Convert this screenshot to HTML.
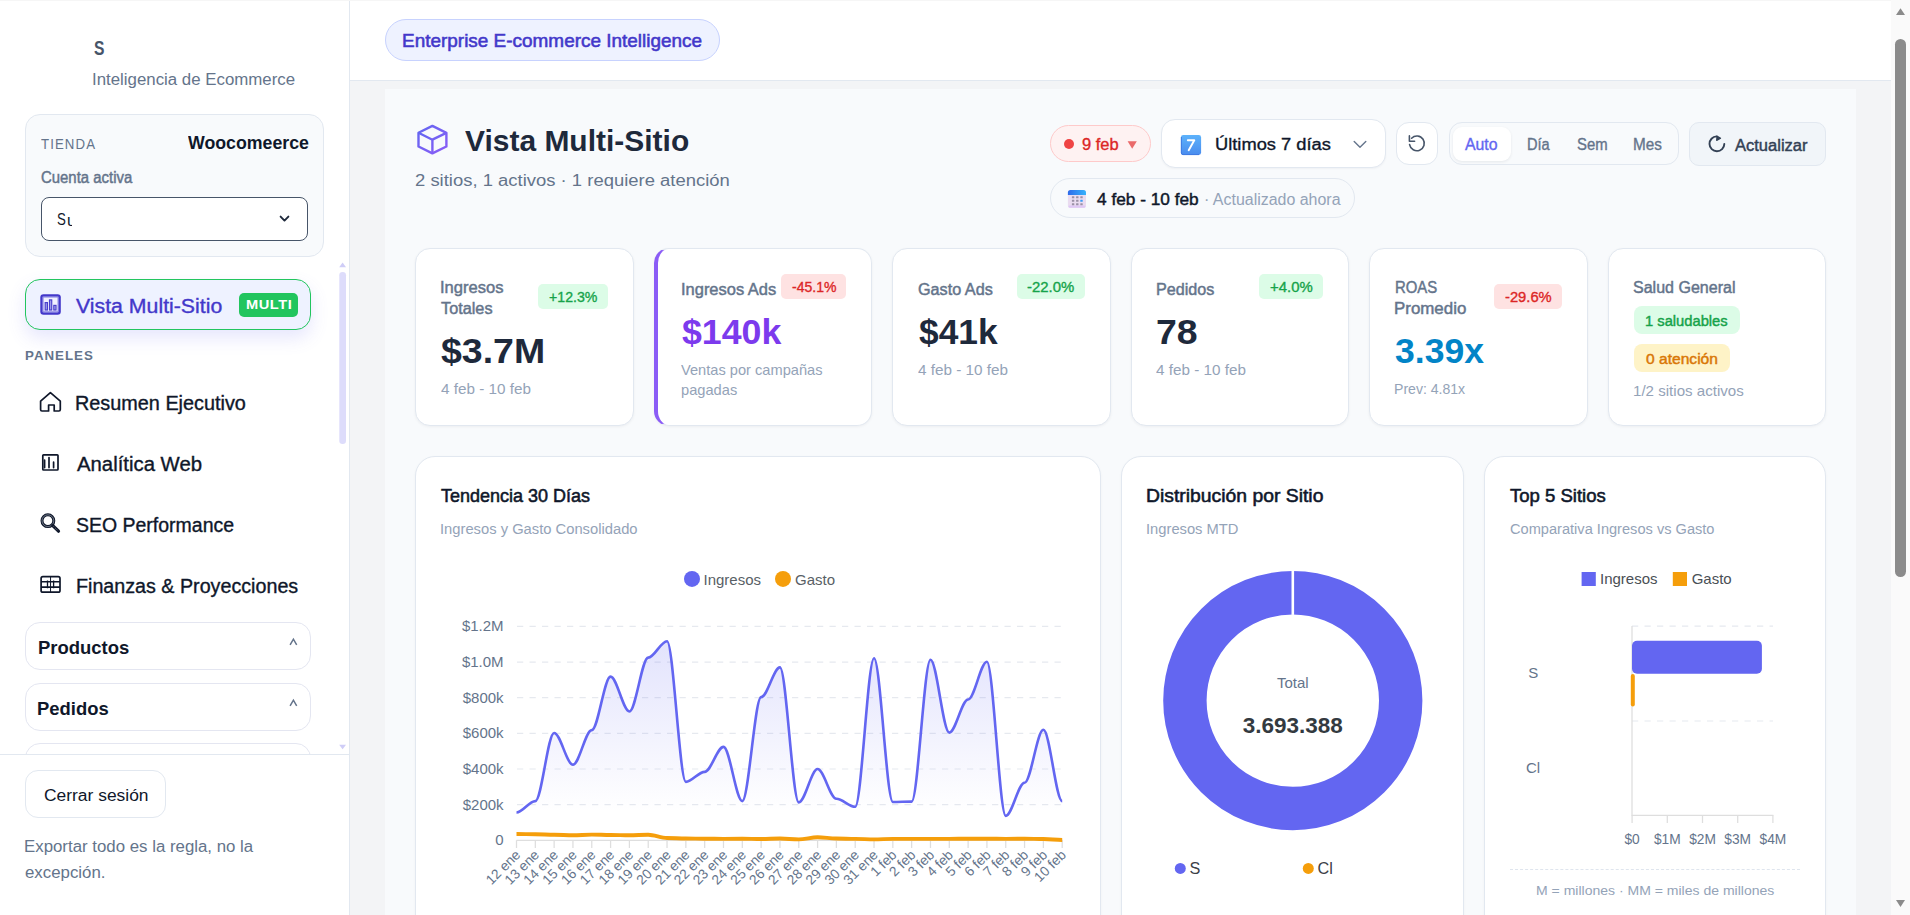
<!DOCTYPE html>
<html lang="es"><head><meta charset="utf-8"><title>Vista Multi-Sitio</title><style>
*{box-sizing:border-box;margin:0;padding:0}
html,body{width:1910px;height:915px;overflow:hidden;background:#fff}
body{font-family:"Liberation Sans",sans-serif;position:relative;-webkit-font-smoothing:antialiased}
#app{position:absolute;left:0;top:0;width:1910px;height:915px;overflow:hidden;background:#fff}
.abs{position:absolute}
.t{position:absolute;white-space:nowrap;line-height:1;transform-origin:0 50%;font-family:"Liberation Sans",sans-serif}
.card{position:absolute;background:#fff;border:1px solid #e2e8f0;border-radius:15px;box-shadow:0 1px 3px rgba(15,23,42,.05)}
.ccard{position:absolute;background:#fff;border:1px solid #e2e8f0;border-radius:20px;box-shadow:0 1px 3px rgba(15,23,42,.04)}
.badge{position:absolute;border-radius:5px}
svg{position:absolute;left:0;top:0;overflow:visible}
</style></head><body><div id="app">
<div class="abs" style="left:350px;top:0px;width:1541px;height:81px;background:#fff;border-bottom:1px solid #e2e8f0"></div>
<div class="abs" style="left:350px;top:81px;width:1541px;height:834px;background:#f3f4f6"></div>
<div class="abs" style="left:385px;top:89px;width:1471px;height:826px;background:#f8fafc"></div>
<aside>
<div class="abs" style="left:0px;top:0px;width:350px;height:915px;background:#fff;border-right:1px solid #e2e8f0"></div>
<span class="t" style="left:93.73px;top:38.79px;font-size:19.5px;color:#475569;font-weight:700;transform:scaleX(0.8014);">S</span>
<span class="t" style="left:92.46px;top:71.25px;font-size:17.06px;color:#64748b;transform:scaleX(0.9878);">Inteligencia de Ecommerce</span>
<div class="abs" style="left:25px;top:114px;width:299px;height:143px;background:#f8fafc;border:1px solid #e2e8f0;border-radius:15px"></div>
<span class="t" style="left:41.45px;top:137.07px;font-size:14.62px;color:#64748b;letter-spacing:1.200px;transform:scaleX(0.9066);">TIENDA</span>
<span class="t" style="left:188.20px;top:133.82px;font-size:18.28px;color:#0f172a;font-weight:700;transform:scaleX(0.9714);">Woocomeerce</span>
<span class="t" style="left:40.50px;top:170.21px;font-size:15.84px;color:#64748b;-webkit-text-stroke:0.45px #64748b;transform:scaleX(0.9427);">Cuenta activa</span>
<div class="abs" style="left:41px;top:197px;width:267px;height:44px;background:#fff;border:1.4px solid #475569;border-radius:8px"></div>
<span class="t" style="left:57.09px;top:211.36px;font-size:17.06px;color:#0f172a;transform:scaleX(0.7754);">S</span>
<span class="abs" style="left:66.6px;top:211.86px;width:5.9px;height:20px;overflow:hidden"><span class="t" style="left:0;top:0;font-size:17.06px;color:#0f172a;transform:scaleX(.95)">u</span></span>
<div class="abs" style="left:25px;top:279px;width:286px;height:51px;background:#eef2ff;border:1px solid #22c55e;border-radius:15px;box-shadow:0 8px 18px rgba(99,102,241,.16)"></div>
<span class="t" style="left:76.00px;top:297.15px;font-size:19.5px;color:#4338ca;-webkit-text-stroke:0.35px #4338ca;transform:scaleX(1.0913);">Vista Multi-Sitio</span>
<div class="abs" style="left:239px;top:293px;width:59.2px;height:23.5px;background:#22c55e;border-radius:5px"></div>
<span class="t" style="left:245.93px;top:298.24px;font-size:13.41px;color:#ffffff;font-weight:700;letter-spacing:0.500px;transform:scaleX(1.0910);">MULTI</span>
<span class="t" style="left:24.63px;top:348.59px;font-size:13.41px;color:#64748b;font-weight:700;letter-spacing:1.000px;transform:scaleX(0.9931);">PANELES</span>
<span class="t" style="left:75.28px;top:394.41px;font-size:19.5px;color:#0f172a;-webkit-text-stroke:0.35px #0f172a;transform:scaleX(1.0169);">Resumen Ejecutivo</span>
<span class="t" style="left:76.90px;top:454.91px;font-size:19.5px;color:#0f172a;-webkit-text-stroke:0.35px #0f172a;transform:scaleX(1.0419);">Analítica Web</span>
<span class="t" style="left:75.54px;top:516.15px;font-size:19.5px;color:#0f172a;-webkit-text-stroke:0.35px #0f172a;transform:scaleX(0.9989);">SEO Performance</span>
<span class="t" style="left:75.84px;top:577.21px;font-size:19.5px;color:#0f172a;-webkit-text-stroke:0.35px #0f172a;transform:scaleX(1.0098);">Finanzas &amp; Proyecciones</span>
<div class="abs" style="left:25px;top:622px;width:286px;height:48px;background:#fff;border:1px solid #e4e6f1;border-radius:15px"></div>
<div class="abs" style="left:25px;top:683.3px;width:286px;height:47.3px;background:#fff;border:1px solid #e4e6f1;border-radius:15px"></div>
<div class="abs" style="left:25px;top:743.3px;width:286px;height:46.7px;background:#fff;border:1px solid #e4e6f1;border-radius:15px"></div>
<span class="t" style="left:37.90px;top:638.79px;font-size:18.28px;color:#0f172a;font-weight:700;transform:scaleX(1.0111);">Productos</span>
<span class="t" style="left:37.40px;top:699.52px;font-size:18.28px;color:#0f172a;font-weight:700;transform:scaleX(1.0085);">Pedidos</span>
<div class="abs" style="left:0px;top:754px;width:349px;height:161px;background:#fff;border-top:1px solid #e2e8f0"></div>
<div class="abs" style="left:25px;top:770px;width:141px;height:47.6px;background:#fff;border:1px solid #e2e8f0;border-radius:13px"></div>
<span class="t" style="left:43.58px;top:786.95px;font-size:17.06px;color:#0f172a;transform:scaleX(1.0219);">Cerrar sesión</span>
<span class="t" style="left:24.03px;top:837.59px;font-size:17.06px;color:#64748b;transform:scaleX(0.9871);">Exportar todo es la regla, no la</span>
<span class="t" style="left:24.85px;top:863.81px;font-size:17.06px;color:#64748b;transform:scaleX(0.9874);">excepción.</span>
</aside>
<header>
<div class="abs" style="left:385px;top:19px;width:335px;height:42px;background:#eef2ff;border:1px solid #c7d2fe;border-radius:21px"></div>
<span class="t" style="left:402.01px;top:32.04px;font-size:18.28px;color:#4338ca;-webkit-text-stroke:0.55px #4338ca;transform:scaleX(1.0372);">Enterprise E-commerce Intelligence</span>
</header>
<main>
<span class="t" style="left:465.38px;top:127.07px;font-size:29.25px;color:#1e293b;font-weight:700;transform:scaleX(1.0244);">Vista Multi-Sitio</span>
<span class="t" style="left:414.79px;top:171.71px;font-size:17.06px;color:#64748b;transform:scaleX(1.0821);">2 sitios, 1 activos · 1 requiere atención</span>
<div class="abs" style="left:1050px;top:125px;width:100.6px;height:36.5px;background:#fef2f2;border:1px solid #fecaca;border-radius:19px"></div>
<div class="abs" style="left:1063.7px;top:139px;width:10.2px;height:10.2px;background:#ef4444;border-radius:50%"></div>
<span class="t" style="left:1082.28px;top:137.10px;font-size:15.84px;color:#dc2626;-webkit-text-stroke:0.35px #dc2626;transform:scaleX(1.0421);">9 feb</span>
<div class="abs" style="left:1161px;top:119px;width:224.5px;height:48.6px;background:#fff;border:1px solid #e2e8f0;border-radius:14px;box-shadow:0 1px 2px rgba(15,23,42,.04)"></div>
<span class="t" style="left:1214.79px;top:135.94px;font-size:17.06px;color:#0f172a;-webkit-text-stroke:0.35px #0f172a;transform:scaleX(1.0731);">Últimos 7 días</span>
<div class="abs" style="left:1396.4px;top:122px;width:42.0px;height:43px;background:#fff;border:1px solid #e2e8f0;border-radius:13px"></div>
<div class="abs" style="left:1449.3px;top:122px;width:229.5px;height:43px;background:#f8fafc;border:1px solid #e2e8f0;border-radius:13px"></div>
<div class="abs" style="left:1453px;top:126.8px;width:58.3px;height:34.1px;background:#fff;border-radius:9px;box-shadow:0 1px 3px rgba(15,23,42,.08)"></div>
<span class="t" style="left:1465.41px;top:137.10px;font-size:15.84px;color:#6366f1;-webkit-text-stroke:0.35px #6366f1;transform:scaleX(1.0003);">Auto</span>
<span class="t" style="left:1526.89px;top:137.10px;font-size:15.84px;color:#64748b;-webkit-text-stroke:0.35px #64748b;transform:scaleX(0.9215);">Día</span>
<span class="t" style="left:1576.88px;top:137.10px;font-size:15.84px;color:#64748b;-webkit-text-stroke:0.35px #64748b;transform:scaleX(0.9403);">Sem</span>
<span class="t" style="left:1632.94px;top:137.10px;font-size:15.84px;color:#64748b;-webkit-text-stroke:0.35px #64748b;transform:scaleX(0.9663);">Mes</span>
<div class="abs" style="left:1689.3px;top:122px;width:136.5px;height:43.5px;background:#f1f5f9;border:1px solid #e2e8f0;border-radius:10px"></div>
<span class="t" style="left:1734.55px;top:136.98px;font-size:17.06px;color:#334155;-webkit-text-stroke:0.45px #334155;transform:scaleX(0.9687);">Actualizar</span>
<div class="abs" style="left:1050px;top:178px;width:304.8px;height:40px;background:#f8fafc;border:1px solid #e2e8f0;border-radius:20px"></div>
<span class="t" style="left:1097.05px;top:190.98px;font-size:17.06px;color:#0f172a;-webkit-text-stroke:0.45px #0f172a;transform:scaleX(1.0118);">4 feb - 10 feb</span>
<span class="t" style="left:1203.62px;top:192.34px;font-size:15.84px;color:#94a3b8;transform:scaleX(1.0074);">· Actualizado ahora</span>
<div class="card" style="left:415px;top:248px;width:219px;height:178px;"></div>
<div class="card" style="left:654px;top:248px;width:218px;height:178px;border-left:4px solid #8b5cf6"></div>
<div class="card" style="left:892px;top:248px;width:219px;height:178px;"></div>
<div class="card" style="left:1131px;top:248px;width:218px;height:178px;"></div>
<div class="card" style="left:1369px;top:248px;width:219px;height:178px;"></div>
<div class="card" style="left:1608px;top:248px;width:218px;height:178px;"></div>
<div class="abs" style="left:538.2px;top:284px;width:69.8px;height:24.9px;background:#dcfce7;border-radius:5px"></div>
<div class="abs" style="left:781.3px;top:274px;width:64.7px;height:24.8px;background:#fee2e2;border-radius:5px"></div>
<div class="abs" style="left:1017px;top:274px;width:68px;height:24.8px;background:#dcfce7;border-radius:5px"></div>
<div class="abs" style="left:1259px;top:274px;width:63.8px;height:24.8px;background:#dcfce7;border-radius:5px"></div>
<div class="abs" style="left:1494px;top:284px;width:68px;height:24.9px;background:#fee2e2;border-radius:5px"></div>
<div class="abs" style="left:1634px;top:306.1px;width:106px;height:27.7px;background:#dcfce7;border-radius:8px"></div>
<div class="abs" style="left:1634px;top:344.3px;width:96px;height:27.7px;background:#fef3c7;border-radius:8px"></div>
<span class="t" style="left:440.02px;top:279.70px;font-size:15.84px;color:#64748b;-webkit-text-stroke:0.45px #64748b;transform:scaleX(1.0452);">Ingresos</span>
<span class="t" style="left:441.00px;top:301.30px;font-size:15.84px;color:#64748b;-webkit-text-stroke:0.45px #64748b;transform:scaleX(1.0275);">Totales</span>
<span class="t" style="left:549.29px;top:290.08px;font-size:14.62px;color:#16a34a;-webkit-text-stroke:0.35px #16a34a;transform:scaleX(0.9683);">+12.3%</span>
<span class="t" style="left:441.39px;top:333.92px;font-size:35.59px;color:#1e293b;font-weight:700;transform:scaleX(1.0536);">$3.7M</span>
<span class="t" style="left:441.05px;top:380.79px;font-size:15.21px;color:#94a3b8;transform:scaleX(1.0043);">4 feb - 10 feb</span>
<span class="t" style="left:681.03px;top:281.92px;font-size:15.84px;color:#64748b;-webkit-text-stroke:0.45px #64748b;transform:scaleX(1.0403);">Ingresos Ads</span>
<span class="t" style="left:791.60px;top:280.11px;font-size:14.62px;color:#dc2626;-webkit-text-stroke:0.35px #dc2626;transform:scaleX(0.9623);">-45.1%</span>
<span class="t" style="left:682.30px;top:314.53px;font-size:35.59px;color:#7c3aed;font-weight:700;transform:scaleX(1.0043);">$140k</span>
<span class="t" style="left:681.36px;top:361.77px;font-size:15.21px;color:#94a3b8;transform:scaleX(0.9622);">Ventas por campañas</span>
<span class="t" style="left:680.78px;top:382.10px;font-size:15.21px;color:#94a3b8;transform:scaleX(0.9636);">pagadas</span>
<span class="t" style="left:918.10px;top:281.92px;font-size:15.84px;color:#64748b;-webkit-text-stroke:0.45px #64748b;transform:scaleX(1.0241);">Gasto Ads</span>
<span class="t" style="left:1027.49px;top:280.11px;font-size:14.62px;color:#16a34a;-webkit-text-stroke:0.35px #16a34a;transform:scaleX(1.0196);">-22.0%</span>
<span class="t" style="left:919.49px;top:314.53px;font-size:35.59px;color:#1e293b;font-weight:700;transform:scaleX(0.9933);">$41k</span>
<span class="t" style="left:918.05px;top:361.77px;font-size:15.21px;color:#94a3b8;transform:scaleX(1.0048);">4 feb - 10 feb</span>
<span class="t" style="left:1155.78px;top:281.92px;font-size:15.84px;color:#64748b;-webkit-text-stroke:0.45px #64748b;transform:scaleX(1.0204);">Pedidos</span>
<span class="t" style="left:1270.49px;top:280.11px;font-size:14.62px;color:#16a34a;-webkit-text-stroke:0.35px #16a34a;transform:scaleX(1.0207);">+4.0%</span>
<span class="t" style="left:1155.75px;top:314.53px;font-size:35.59px;color:#1e293b;font-weight:700;transform:scaleX(1.0525);">78</span>
<span class="t" style="left:1156.04px;top:361.77px;font-size:15.21px;color:#94a3b8;transform:scaleX(1.0043);">4 feb - 10 feb</span>
<span class="t" style="left:1394.58px;top:279.70px;font-size:15.84px;color:#64748b;-webkit-text-stroke:0.45px #64748b;transform:scaleX(0.9410);">ROAS</span>
<span class="t" style="left:1393.87px;top:301.30px;font-size:15.84px;color:#64748b;-webkit-text-stroke:0.45px #64748b;transform:scaleX(1.0669);">Promedio</span>
<span class="t" style="left:1504.97px;top:290.08px;font-size:14.62px;color:#dc2626;-webkit-text-stroke:0.35px #dc2626;transform:scaleX(1.0088);">-29.6%</span>
<span class="t" style="left:1395.00px;top:333.92px;font-size:35.59px;color:#0284c7;font-weight:700;transform:scaleX(0.9994);">3.39x</span>
<span class="t" style="left:1394.08px;top:380.79px;font-size:15.21px;color:#94a3b8;transform:scaleX(0.9253);">Prev: 4.81x</span>
<span class="t" style="left:1633.28px;top:279.70px;font-size:15.84px;color:#64748b;-webkit-text-stroke:0.45px #64748b;transform:scaleX(1.0125);">Salud General</span>
<span class="t" style="left:1645.04px;top:314.31px;font-size:14.62px;color:#16a34a;-webkit-text-stroke:0.45px #16a34a;transform:scaleX(1.0077);">1 saludables</span>
<span class="t" style="left:1646.01px;top:352.10px;font-size:14.62px;color:#d97706;-webkit-text-stroke:0.45px #d97706;transform:scaleX(1.0673);">0 atención</span>
<span class="t" style="left:1633.09px;top:382.79px;font-size:15.21px;color:#94a3b8;transform:scaleX(0.9935);">1/2 sitios activos</span>
<div class="ccard" style="left:415px;top:456px;width:686px;height:484px;"></div>
<div class="ccard" style="left:1121px;top:456px;width:343px;height:484px;"></div>
<div class="ccard" style="left:1484px;top:456px;width:342px;height:484px;"></div>
<span class="t" style="left:441.37px;top:486.53px;font-size:18.28px;color:#0f172a;-webkit-text-stroke:0.55px #0f172a;transform:scaleX(0.9851);">Tendencia 30 Días</span>
<span class="t" style="left:440.23px;top:522.15px;font-size:14.62px;color:#94a3b8;transform:scaleX(1.0094);">Ingresos y Gasto Consolidado</span>
<span class="t" style="left:1145.92px;top:486.53px;font-size:18.28px;color:#0f172a;-webkit-text-stroke:0.55px #0f172a;transform:scaleX(1.0590);">Distribución por Sitio</span>
<span class="t" style="left:1145.83px;top:522.12px;font-size:14.62px;color:#94a3b8;transform:scaleX(1.0080);">Ingresos MTD</span>
<span class="t" style="left:1510.24px;top:486.53px;font-size:18.28px;color:#0f172a;-webkit-text-stroke:0.55px #0f172a;transform:scaleX(1.0148);">Top 5 Sitios</span>
<span class="t" style="left:1509.51px;top:522.15px;font-size:14.62px;color:#94a3b8;transform:scaleX(0.9994);">Comparativa Ingresos vs Gasto</span>
<span class="t" style="left:1536.04px;top:883.80px;font-size:13.41px;color:#94a3b8;transform:scaleX(1.0453);">M = millones · MM = miles de millones</span>
<div class="abs" style="left:1510px;top:868.5px;width:290px;height:1.0px;border-top:1px dashed #dfe5ee"></div>
</main>
<div class="abs" style="left:0px;top:0px;width:1910px;height:1px;background:#f6f6f6"></div>
<div class="abs" style="left:1891px;top:0px;width:19px;height:915px;background:#fafafa"></div>
<div class="abs" style="left:1895px;top:39px;width:11px;height:538px;background:#8b8b8b;border-radius:5.5px"></div>
<svg width="1910" height="915" viewBox="0 0 1910 915" font-family="Liberation Sans, sans-serif"><defs><linearGradient id="gA" gradientUnits="userSpaceOnUse" x1="0" y1="626" x2="0" y2="812"><stop offset="0" stop-color="#6366f1" stop-opacity=".2"/><stop offset="1" stop-color="#6366f1" stop-opacity="0"/></linearGradient><linearGradient id="gC" x1="0" y1="0" x2="1" y2="1"><stop offset="0" stop-color="#6366f1"/><stop offset="1" stop-color="#8b5cf6"/></linearGradient><linearGradient id="g7" x1="0" y1="0" x2="0" y2="1"><stop offset="0" stop-color="#5cb2fb"/><stop offset="1" stop-color="#4a8cee"/></linearGradient><linearGradient id="gCal" x1="0" y1="0" x2="1" y2="0"><stop offset="0" stop-color="#2f6bea"/><stop offset="1" stop-color="#36b2fb"/></linearGradient></defs><path d="M1896 15 L1900.5 8.2 L1905 15 Z" fill="#8b8b8b"/><path d="M1896 900 L1905 900 L1900.5 907 Z" fill="#8b8b8b"/><path d="M339.2 267.2 L342.6 262.6 L346 267.2 Z" fill="#cfcdf7"/><rect x="339.3" y="272" width="6.7" height="172" rx="3.3" fill="#dddcfb"/><path d="M339.2 744.8 L346 744.8 L342.6 749.2 Z" fill="#cfcdf7"/><path d="M280.6 216.6 L284.5 220.6 L288.4 216.6" fill="none" stroke="#1e293b" stroke-width="1.9" stroke-linecap="round" stroke-linejoin="round"/><g><rect x="40.3" y="294.2" width="20.5" height="20.5" rx="3.2" fill="#4338ca"/><rect x="42.3" y="296.2" width="16.5" height="16.5" rx="1.4" fill="#8f8ce4"/><rect x="43.6" y="297.6" width="13.9" height="13.6" fill="#f1f1ff"/><rect x="44.6" y="302" width="3.4" height="8.6" fill="#4a40cc"/><rect x="45.7" y="303.2" width="1.2" height="6.2" fill="#9d9aea"/><rect x="48.9" y="299.3" width="3.4" height="11.3" fill="#4a40cc"/><rect x="50" y="300.5" width="1.2" height="8.9" fill="#9d9aea"/><rect x="53.2" y="304.8" width="3.4" height="5.8" fill="#4a40cc"/><rect x="54.3" y="306" width="1.2" height="3.4" fill="#9d9aea"/></g><path d="M40.6 401.2 L50.4 392.6 L60.3 401.2 V409.6 Q60.3 411 58.9 411 H54.2 V405 H48.6 V411 H42 Q40.6 411 40.6 409.6 Z" fill="none" stroke="#0f172a" stroke-width="1.7" stroke-linejoin="round"/><g fill="none" stroke="#0f172a"><rect x="42.8" y="454.8" width="15.2" height="15.2" rx="0.8" stroke-width="1.7"/><path d="M44.6 460.2 V467.6 M49 457.5 V467.6 M53.6 462.2 V467.6" stroke-width="1.7" stroke-linecap="round"/></g><g fill="none" stroke="#0f172a"><circle cx="47.9" cy="520.7" r="5.9" stroke-width="3"/><circle cx="47.9" cy="520.7" r="5.9" stroke="#cbd5e1" stroke-width="0.5"/><path d="M52.8 525.6 L58.5 531.2" stroke-width="3.2" stroke-linecap="round"/><path d="M53.6 526.4 L58 530.8" stroke="#cbd5e1" stroke-width="0.5" stroke-dasharray="1 1"/></g><g fill="none" stroke="#0f172a"><rect x="41.1" y="576.6" width="18.9" height="15.6" rx="1.8" stroke-width="1.7"/><path d="M41.1 581.7 H60 M41.1 587.1 H60" stroke-width="1.6"/><path d="M50.55 576.6 V592.2" stroke-width="1"/><path d="M47.5 580.6 V588.2 M53.6 580.6 V588.2" stroke-width="1.3"/></g><path d="M290.1 644.8000000000001 L293.4 639.2 L296.7 644.8000000000001" fill="none" stroke="#64748b" stroke-width="1.5"/><path d="M290.1 705.8000000000001 L293.4 700.2 L296.7 705.8000000000001" fill="none" stroke="#64748b" stroke-width="1.5"/><g fill="none" stroke="url(#gC)" stroke-width="2.4" stroke-linejoin="round"><path d="M432.4 125.9 L446.4 132.8 V146.5 L432.4 153.4 L418.5 146.5 V132.8 Z"/><path d="M418.5 132.8 L432.4 139.7 L446.4 132.8 M432.4 139.7 V153.4"/></g><path d="M1127.6 141.2 L1136.8 141.2 L1132.2 148.8 Z" fill="#ea6a6a"/><g><rect x="1180.9" y="135" width="20.2" height="20" rx="2.4" fill="url(#g7)"/><path d="M1181.4 137 V153 Q1181.4 154.6 1183 154.6 H1199" fill="none" stroke="#3f7be2" stroke-width="1"/><path d="M1187.8 140.2 H1194.3 L1188.7 150.2" fill="none" stroke="#fff" stroke-width="1.9" stroke-linecap="round" stroke-linejoin="round"/></g><path d="M1354.2 141.6 L1360 147.2 L1365.8 141.6" fill="none" stroke="#64748b" stroke-width="1.4" stroke-linecap="round" stroke-linejoin="round"/><g fill="none" stroke="#475569" stroke-width="1.6" stroke-linecap="round" stroke-linejoin="round"><path d="M1409.6 144.6 A7.4 7.4 0 1 0 1411.6 138.2"/><path d="M1409.4 135.9 V141.2 H1414.6"/></g><g><path d="M1716.6 136.4 A7.4 7.4 0 1 0 1724.3 143.9" fill="none" stroke="#334155" stroke-width="1.9" stroke-linecap="round"/><path d="M1716.9 136 L1720.6 138.2 L1716.7 140.4 Z" fill="#334155" stroke="#334155" stroke-width="1.1" stroke-linejoin="round"/></g><g><rect x="1067.9" y="189.9" width="18.1" height="17.9" rx="2.6" fill="#eadcf0"/><path d="M1067.9 195 V192.5 Q1067.9 189.9 1070.5 189.9 H1083.4 Q1086 189.9 1086 192.5 V195 Z" fill="url(#gCal)"/><rect x="1068.5" y="205.4" width="16.9" height="2.4" rx="1.2" fill="#dfc8f5"/><rect x="1071.9" y="196.2" width="2.4" height="2.1" rx=".4" fill="#9b90a6"/><rect x="1076.1" y="196.2" width="2.4" height="2.1" rx=".4" fill="#9b90a6"/><rect x="1080.3" y="196.2" width="2.4" height="2.1" rx=".4" fill="#9b90a6"/><rect x="1071.9" y="199.7" width="2.4" height="2.1" rx=".4" fill="#9b90a6"/><rect x="1076.1" y="199.7" width="2.4" height="2.1" rx=".4" fill="#9b90a6"/><rect x="1080.3" y="199.7" width="2.4" height="2.1" rx=".4" fill="#3b9cf5"/><rect x="1071.9" y="203.2" width="2.4" height="2.1" rx=".4" fill="#9b90a6"/><rect x="1076.1" y="203.2" width="2.4" height="2.1" rx=".4" fill="#9b90a6"/><rect x="1080.3" y="203.2" width="2.4" height="2.1" rx=".4" fill="#9b90a6"/></g><g id="linechart"><path d="M517 626.40 H1062.6" stroke="#e6e9ef" stroke-width="1.2" stroke-dasharray="6.25 6.25" fill="none"/><path d="M517 662.05 H1062.6" stroke="#e6e9ef" stroke-width="1.2" stroke-dasharray="6.25 6.25" fill="none"/><path d="M517 697.70 H1062.6" stroke="#e6e9ef" stroke-width="1.2" stroke-dasharray="6.25 6.25" fill="none"/><path d="M517 733.35 H1062.6" stroke="#e6e9ef" stroke-width="1.2" stroke-dasharray="6.25 6.25" fill="none"/><path d="M517 769.00 H1062.6" stroke="#e6e9ef" stroke-width="1.2" stroke-dasharray="6.25 6.25" fill="none"/><path d="M517 804.65 H1062.6" stroke="#e6e9ef" stroke-width="1.2" stroke-dasharray="6.25 6.25" fill="none"/><path d="M516.5 840.3 H1062.6" stroke="#dedede" stroke-width="1.25" fill="none"/><path d="M516.50 840.3 V847.9 M535.32 840.3 V847.9 M554.13 840.3 V847.9 M572.95 840.3 V847.9 M591.77 840.3 V847.9 M610.59 840.3 V847.9 M629.40 840.3 V847.9 M648.22 840.3 V847.9 M667.04 840.3 V847.9 M685.86 840.3 V847.9 M704.67 840.3 V847.9 M723.49 840.3 V847.9 M742.31 840.3 V847.9 M761.12 840.3 V847.9 M779.94 840.3 V847.9 M798.76 840.3 V847.9 M817.58 840.3 V847.9 M836.39 840.3 V847.9 M855.21 840.3 V847.9 M874.03 840.3 V847.9 M892.84 840.3 V847.9 M911.66 840.3 V847.9 M930.48 840.3 V847.9 M949.30 840.3 V847.9 M968.11 840.3 V847.9 M986.93 840.3 V847.9 M1005.75 840.3 V847.9 M1024.57 840.3 V847.9 M1043.38 840.3 V847.9 M1062.20 840.3 V847.9 " stroke="#dedede" stroke-width="1.25" fill="none"/><path d="M516.50 812.49 C522.77 812.49 529.04 801.08 535.32 801.08 C541.59 801.08 547.86 732.99 554.13 732.99 C560.41 732.99 566.68 764.72 572.95 764.72 C579.22 764.72 585.50 730.14 591.77 730.14 C598.04 730.14 604.31 676.67 610.59 676.67 C616.86 676.67 623.13 711.43 629.40 711.43 C635.68 711.43 641.95 657.59 648.22 657.59 C654.49 657.59 660.77 641.19 667.04 641.19 C673.31 641.19 679.58 781.83 685.86 781.83 C692.13 781.83 698.40 771.85 704.67 771.85 C710.94 771.85 717.22 746.90 723.49 746.90 C729.76 746.90 736.03 801.08 742.31 801.08 C748.58 801.08 754.85 697.17 761.12 697.17 C767.40 697.17 773.67 667.40 779.94 667.40 C786.21 667.40 792.49 802.33 798.76 802.33 C805.03 802.33 811.30 769.00 817.58 769.00 C823.85 769.00 830.12 798.77 836.39 798.77 C842.67 798.77 848.94 806.79 855.21 806.79 C861.48 806.79 867.76 658.31 874.03 658.31 C880.30 658.31 886.57 801.98 892.84 801.98 C899.12 801.98 905.39 801.62 911.66 801.62 C917.93 801.62 924.21 659.73 930.48 659.73 C936.75 659.73 943.02 732.64 949.30 732.64 C955.57 732.64 961.84 699.48 968.11 699.48 C974.39 699.48 980.66 661.69 986.93 661.69 C993.20 661.69 999.48 815.88 1005.75 815.88 C1012.02 815.88 1018.29 782.73 1024.57 782.73 C1030.84 782.73 1037.11 729.78 1043.38 729.78 C1049.66 729.78 1055.93 801.08 1062.20 801.08 L1062.20 840.3 L516.50 840.3 Z" fill="url(#gA)"/><path d="M516.50 812.49 C522.77 812.49 529.04 801.08 535.32 801.08 C541.59 801.08 547.86 732.99 554.13 732.99 C560.41 732.99 566.68 764.72 572.95 764.72 C579.22 764.72 585.50 730.14 591.77 730.14 C598.04 730.14 604.31 676.67 610.59 676.67 C616.86 676.67 623.13 711.43 629.40 711.43 C635.68 711.43 641.95 657.59 648.22 657.59 C654.49 657.59 660.77 641.19 667.04 641.19 C673.31 641.19 679.58 781.83 685.86 781.83 C692.13 781.83 698.40 771.85 704.67 771.85 C710.94 771.85 717.22 746.90 723.49 746.90 C729.76 746.90 736.03 801.08 742.31 801.08 C748.58 801.08 754.85 697.17 761.12 697.17 C767.40 697.17 773.67 667.40 779.94 667.40 C786.21 667.40 792.49 802.33 798.76 802.33 C805.03 802.33 811.30 769.00 817.58 769.00 C823.85 769.00 830.12 798.77 836.39 798.77 C842.67 798.77 848.94 806.79 855.21 806.79 C861.48 806.79 867.76 658.31 874.03 658.31 C880.30 658.31 886.57 801.98 892.84 801.98 C899.12 801.98 905.39 801.62 911.66 801.62 C917.93 801.62 924.21 659.73 930.48 659.73 C936.75 659.73 943.02 732.64 949.30 732.64 C955.57 732.64 961.84 699.48 968.11 699.48 C974.39 699.48 980.66 661.69 986.93 661.69 C993.20 661.69 999.48 815.88 1005.75 815.88 C1012.02 815.88 1018.29 782.73 1024.57 782.73 C1030.84 782.73 1037.11 729.78 1043.38 729.78 C1049.66 729.78 1055.93 801.08 1062.20 801.08" fill="none" stroke="#6366f1" stroke-width="2.6" stroke-linejoin="round"/><path d="M516.50 834.06 C522.77 834.06 529.04 834.24 535.32 834.24 C541.59 834.24 547.86 834.77 554.13 834.77 C560.41 834.77 566.68 835.31 572.95 835.31 C579.22 835.31 585.50 834.60 591.77 834.60 C598.04 834.60 604.31 834.95 610.59 834.95 C616.86 834.95 623.13 835.31 629.40 835.31 C635.68 835.31 641.95 834.77 648.22 834.77 C654.49 834.77 660.77 837.98 667.04 837.98 C673.31 837.98 679.58 838.52 685.86 838.52 C692.13 838.52 698.40 838.70 704.67 838.70 C710.94 838.70 717.22 838.87 723.49 838.87 C729.76 838.87 736.03 838.70 742.31 838.70 C748.58 838.70 754.85 839.05 761.12 839.05 C767.40 839.05 773.67 838.52 779.94 838.52 C786.21 838.52 792.49 839.41 798.76 839.41 C805.03 839.41 811.30 837.27 817.58 837.27 C823.85 837.27 830.12 838.52 836.39 838.52 C842.67 838.52 848.94 838.87 855.21 838.87 C861.48 838.87 867.76 839.41 874.03 839.41 C880.30 839.41 886.57 838.87 892.84 838.87 C899.12 838.87 905.39 838.87 911.66 838.87 C917.93 838.87 924.21 838.87 930.48 838.87 C936.75 838.87 943.02 838.87 949.30 838.87 C955.57 838.87 961.84 838.70 968.11 838.70 C974.39 838.70 980.66 838.70 986.93 838.70 C993.20 838.70 999.48 838.87 1005.75 838.87 C1012.02 838.87 1018.29 838.70 1024.57 838.70 C1030.84 838.70 1037.11 839.05 1043.38 839.05 C1049.66 839.05 1055.93 839.94 1062.20 839.94" fill="none" stroke="#f59e0b" stroke-width="3.9" stroke-linejoin="round"/><circle cx="692" cy="578.9" r="8" fill="#6366f1"/><circle cx="783" cy="578.9" r="8" fill="#f59e0b"/><text x="703.5" y="585.2" font-size="15" fill="#595f66">Ingresos</text><text x="795.1" y="585.2" font-size="15" fill="#595f66">Gasto</text><text x="503.6" y="631.30" font-size="15" fill="#64748b" text-anchor="end">$1.2M</text><text x="503.6" y="666.95" font-size="15" fill="#64748b" text-anchor="end">$1.0M</text><text x="503.6" y="702.60" font-size="15" fill="#64748b" text-anchor="end">$800k</text><text x="503.6" y="738.25" font-size="15" fill="#64748b" text-anchor="end">$600k</text><text x="503.6" y="773.90" font-size="15" fill="#64748b" text-anchor="end">$400k</text><text x="503.6" y="809.55" font-size="15" fill="#64748b" text-anchor="end">$200k</text><text x="503.6" y="845.20" font-size="15" fill="#64748b" text-anchor="end">0</text><text transform="translate(516.50 851.2) rotate(-45)" x="0.1" y="6.5" font-size="13.75" fill="#64748b" text-anchor="end">12 ene</text><text transform="translate(535.32 851.2) rotate(-45)" x="0.1" y="6.5" font-size="13.75" fill="#64748b" text-anchor="end">13 ene</text><text transform="translate(554.13 851.2) rotate(-45)" x="0.1" y="6.5" font-size="13.75" fill="#64748b" text-anchor="end">14 ene</text><text transform="translate(572.95 851.2) rotate(-45)" x="0.1" y="6.5" font-size="13.75" fill="#64748b" text-anchor="end">15 ene</text><text transform="translate(591.77 851.2) rotate(-45)" x="0.1" y="6.5" font-size="13.75" fill="#64748b" text-anchor="end">16 ene</text><text transform="translate(610.59 851.2) rotate(-45)" x="0.1" y="6.5" font-size="13.75" fill="#64748b" text-anchor="end">17 ene</text><text transform="translate(629.40 851.2) rotate(-45)" x="0.1" y="6.5" font-size="13.75" fill="#64748b" text-anchor="end">18 ene</text><text transform="translate(648.22 851.2) rotate(-45)" x="0.1" y="6.5" font-size="13.75" fill="#64748b" text-anchor="end">19 ene</text><text transform="translate(667.04 851.2) rotate(-45)" x="0.1" y="6.5" font-size="13.75" fill="#64748b" text-anchor="end">20 ene</text><text transform="translate(685.86 851.2) rotate(-45)" x="0.1" y="6.5" font-size="13.75" fill="#64748b" text-anchor="end">21 ene</text><text transform="translate(704.67 851.2) rotate(-45)" x="0.1" y="6.5" font-size="13.75" fill="#64748b" text-anchor="end">22 ene</text><text transform="translate(723.49 851.2) rotate(-45)" x="0.1" y="6.5" font-size="13.75" fill="#64748b" text-anchor="end">23 ene</text><text transform="translate(742.31 851.2) rotate(-45)" x="0.1" y="6.5" font-size="13.75" fill="#64748b" text-anchor="end">24 ene</text><text transform="translate(761.12 851.2) rotate(-45)" x="0.1" y="6.5" font-size="13.75" fill="#64748b" text-anchor="end">25 ene</text><text transform="translate(779.94 851.2) rotate(-45)" x="0.1" y="6.5" font-size="13.75" fill="#64748b" text-anchor="end">26 ene</text><text transform="translate(798.76 851.2) rotate(-45)" x="0.1" y="6.5" font-size="13.75" fill="#64748b" text-anchor="end">27 ene</text><text transform="translate(817.58 851.2) rotate(-45)" x="0.1" y="6.5" font-size="13.75" fill="#64748b" text-anchor="end">28 ene</text><text transform="translate(836.39 851.2) rotate(-45)" x="0.1" y="6.5" font-size="13.75" fill="#64748b" text-anchor="end">29 ene</text><text transform="translate(855.21 851.2) rotate(-45)" x="0.1" y="6.5" font-size="13.75" fill="#64748b" text-anchor="end">30 ene</text><text transform="translate(874.03 851.2) rotate(-45)" x="0.1" y="6.5" font-size="13.75" fill="#64748b" text-anchor="end">31 ene</text><text transform="translate(892.84 851.2) rotate(-45)" x="0.1" y="6.5" font-size="13.75" fill="#64748b" text-anchor="end">1 feb</text><text transform="translate(911.66 851.2) rotate(-45)" x="0.1" y="6.5" font-size="13.75" fill="#64748b" text-anchor="end">2 feb</text><text transform="translate(930.48 851.2) rotate(-45)" x="0.1" y="6.5" font-size="13.75" fill="#64748b" text-anchor="end">3 feb</text><text transform="translate(949.30 851.2) rotate(-45)" x="0.1" y="6.5" font-size="13.75" fill="#64748b" text-anchor="end">4 feb</text><text transform="translate(968.11 851.2) rotate(-45)" x="0.1" y="6.5" font-size="13.75" fill="#64748b" text-anchor="end">5 feb</text><text transform="translate(986.93 851.2) rotate(-45)" x="0.1" y="6.5" font-size="13.75" fill="#64748b" text-anchor="end">6 feb</text><text transform="translate(1005.75 851.2) rotate(-45)" x="0.1" y="6.5" font-size="13.75" fill="#64748b" text-anchor="end">7 feb</text><text transform="translate(1024.57 851.2) rotate(-45)" x="0.1" y="6.5" font-size="13.75" fill="#64748b" text-anchor="end">8 feb</text><text transform="translate(1043.38 851.2) rotate(-45)" x="0.1" y="6.5" font-size="13.75" fill="#64748b" text-anchor="end">9 feb</text><text transform="translate(1062.20 851.2) rotate(-45)" x="0.1" y="6.5" font-size="13.75" fill="#64748b" text-anchor="end">10 feb</text></g><g id="donut"><circle cx="1292.8" cy="700.6" r="107.9" fill="none" stroke="#6366f1" stroke-width="43.39999999999999"/><path d="M1292.8 570.5 V614.9" stroke="#fff" stroke-width="2.6"/><text x="1292.8" y="688.2" font-size="15" fill="#64748b" text-anchor="middle">Total</text><text x="1292.8" y="732.9" font-size="22.5" font-weight="700" fill="#333a3f" text-anchor="middle">3.693.388</text><circle cx="1180.3" cy="868.4" r="5.5" fill="#6366f1"/><circle cx="1308.3" cy="868.4" r="5.5" fill="#f59e0b"/><text x="1189.4" y="874" font-size="16.25" fill="#3c4148">S</text><text x="1317.6" y="874" font-size="16.25" fill="#3c4148">Cl</text></g><g id="barchart"><rect x="1581.6" y="572" width="14.2" height="14" fill="#6366f1"/><rect x="1672.8" y="572" width="14.2" height="14" fill="#f59e0b"/><text x="1600" y="584.4" font-size="15" fill="#4a4f55">Ingresos</text><text x="1691.7" y="584.4" font-size="15" fill="#4a4f55">Gasto</text><path d="M1632 626.2 H1773 M1632 721 H1773" stroke="#e6e9ef" stroke-width="1.2" stroke-dasharray="6.25 6.25" fill="none"/><path d="M1632 626 V815.3 H1773.4" stroke="#dedede" stroke-width="1.25" fill="none"/><path d="M1632.10 815.3 V823 M1667.30 815.3 V823 M1702.50 815.3 V823 M1737.70 815.3 V823 M1772.90 815.3 V823 " stroke="#dedede" stroke-width="1.25" fill="none"/><rect x="1632" y="640.7" width="129.9" height="33.1" rx="5" fill="#6366f1"/><path d="M1630.8 676 Q1630.8 673.9 1632.8 673.9 Q1634.8 673.9 1634.8 676 V704.4 Q1634.8 706.5 1632.8 706.5 Q1630.8 706.5 1630.8 704.4 Z" fill="#f59e0b"/><text x="1533.3" y="677.6" font-size="15" fill="#64748b" text-anchor="middle">S</text><text x="1533" y="773" font-size="15" fill="#64748b" text-anchor="middle">Cl</text><text x="1632.10" y="844" font-size="13.75" fill="#64748b" text-anchor="middle">$0</text><text x="1667.30" y="844" font-size="13.75" fill="#64748b" text-anchor="middle">$1M</text><text x="1702.50" y="844" font-size="13.75" fill="#64748b" text-anchor="middle">$2M</text><text x="1737.70" y="844" font-size="13.75" fill="#64748b" text-anchor="middle">$3M</text><text x="1772.90" y="844" font-size="13.75" fill="#64748b" text-anchor="middle">$4M</text></g></svg>
</div></body></html>
